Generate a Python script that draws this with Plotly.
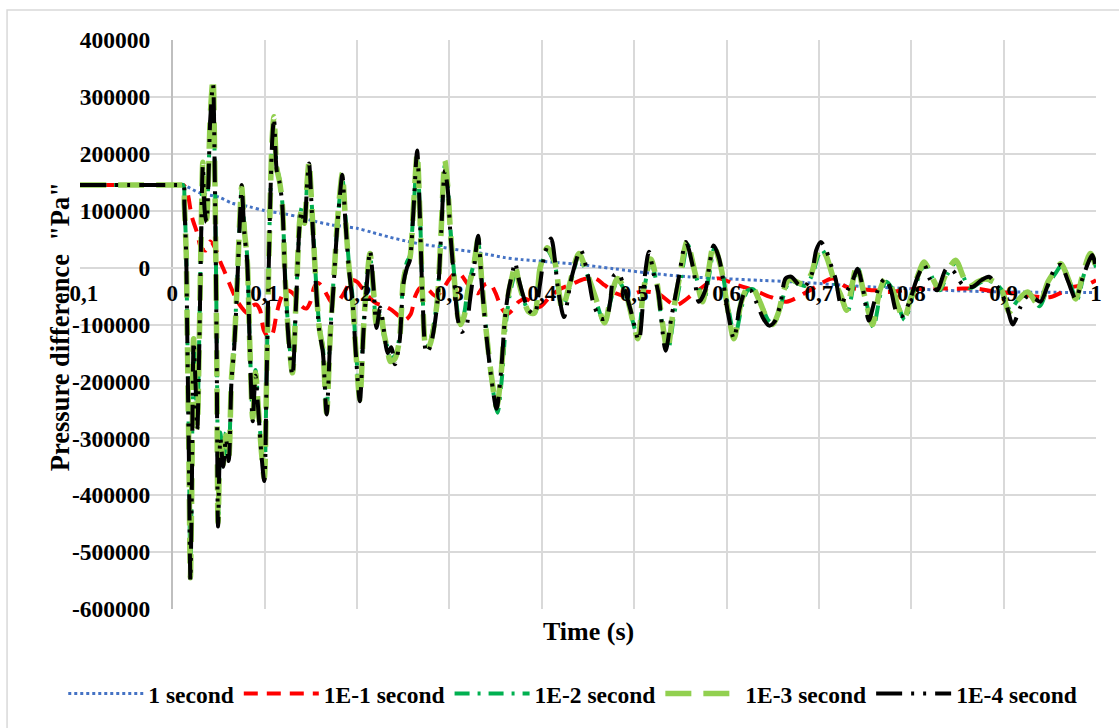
import plotly.graph_objects as go

# ---------------- data ----------------
x_tick_vals = [-0.1, 0, 0.1, 0.2, 0.3, 0.4, 0.5, 0.6, 0.7, 0.8, 0.9, 1.0]
x_tick_text = ["-0,1", "0", "0,1", "0,2", "0,3", "0,4", "0,5", "0,6", "0,7", "0,8", "0,9", "1"]
y_tick_vals = [-600000, -500000, -400000, -300000, -200000, -100000, 0, 100000, 200000, 300000, 400000]
y_tick_text = ["-600000", "-500000", "-400000", "-300000", "-200000", "-100000", "0",
               "100000", "200000", "300000", "400000"]

series_names = ["1 second", "1E-1 second", "1E-2 second", "1E-3 second", "1E-4 second"]

# 1 second
t_1s = [-0.1, 0.0, 0.008, 0.012, 0.03, 0.05, 0.065, 0.083, 0.1, 0.12, 0.137, 0.155, 0.173, 0.2, 0.216,
        0.234, 0.252, 0.27, 0.288, 0.306, 0.324, 0.342, 0.36, 0.378, 0.4, 0.438, 0.478, 0.518,
        0.558, 0.598, 0.638, 0.678, 0.718, 0.758, 0.798, 0.838, 0.878, 0.918, 0.958, 1.0]
p_1s = [145000, 145000, 145000, 145000, 131000, 124000, 113000, 107000, 100000, 95000, 89000, 81000, 75000,
        69000, 62000, 54000, 47000, 41000, 37000, 32000, 28000, 23000, 17500, 14000, 11000,
        6000, -2000, -10000, -16000, -19500, -22500, -25500, -30000, -34000, -37000, -40000,
        -42000, -43000, -43500, -44000]

# 1E-1 second
t_1e1 = [-0.1, 0.0, 0.008, 0.012, 0.016, 0.021, 0.027, 0.031, 0.036, 0.041, 0.047, 0.052, 0.057, 0.063,
         0.069, 0.075, 0.081, 0.086, 0.091, 0.095, 0.099, 0.104, 0.108, 0.113, 0.117, 0.122,
         0.128, 0.133, 0.140, 0.145, 0.149, 0.154, 0.158, 0.163, 0.168, 0.173, 0.178, 0.183,
         0.188, 0.194, 0.200, 0.205, 0.212, 0.220, 0.230, 0.238, 0.245, 0.252, 0.258, 0.263,
         0.268, 0.273, 0.278, 0.285, 0.292, 0.300, 0.306, 0.312, 0.318, 0.325, 0.331, 0.338,
         0.344, 0.350, 0.356, 0.362, 0.368, 0.375, 0.383, 0.390, 0.398, 0.410, 0.422, 0.434,
         0.446, 0.458, 0.468, 0.480, 0.492, 0.508, 0.526, 0.545, 0.565, 0.590, 0.610, 0.630,
         0.648, 0.665, 0.690, 0.715, 0.730, 0.760, 0.775, 0.800, 0.820, 0.850, 0.870, 0.890,
         0.915, 0.950, 0.975, 0.990, 1.0]
p_1e1 = [145000, 145000, 145000, 145000, 134000, 90000, 60000, 35000, 30000, 46000, 32000, 10000, -9000,
         -33000, -55000, -70000, -80000, -68000, -65000, -75000, -110000, -122000, -118000,
         -80000, -56000, -40000, -42000, -50000, -68000, -72000, -62000, -33000, -27000,
         -35000, -50000, -62000, -62000, -52000, -38000, -22000, -25000, -35000, -50000,
         -62000, -68000, -75000, -85000, -92000, -82000, -50000, -36000, -33000, -40000,
         -50000, -40000, -20000, -10000, -12000, -25000, -40000, -45000, -30000, -28000,
         -45000, -70000, -82000, -75000, -60000, -55000, -62000, -69000, -49000, -36000,
         -28000, -20000, -19000, -31000, -45000, -50000, -42000, -46000, -66000, -45000,
         -19000, -30000, -40000, -52000, -60000, -40000, -19000, -34000, -40000, -43000,
         -38000, -37000, -37000, -37000, -42000, -46000, -52000, -34000, -30000, -22000]

# 1E-4 second
t_1e4 = [-0.1, 0.0, 0.008, 0.012, 0.013, 0.015, 0.016, 0.018, 0.0195, 0.021, 0.023, 0.025, 0.027, 0.029,
         0.031, 0.033, 0.035, 0.037, 0.039, 0.041, 0.044, 0.046, 0.048, 0.0495, 0.052, 0.055,
         0.058, 0.061, 0.064, 0.067, 0.070, 0.073, 0.075, 0.078, 0.081, 0.084, 0.087, 0.090,
         0.093, 0.0965, 0.0995, 0.102, 0.105, 0.108, 0.110, 0.113, 0.116, 0.119, 0.122, 0.126,
         0.130, 0.134, 0.138, 0.140, 0.143, 0.146, 0.148, 0.151, 0.155, 0.159, 0.163, 0.167,
         0.171, 0.175, 0.178, 0.181, 0.184, 0.187, 0.191, 0.195, 0.199, 0.203, 0.207, 0.211,
         0.214, 0.218, 0.221, 0.225, 0.229, 0.233, 0.237, 0.241, 0.246, 0.250, 0.254, 0.257,
         0.261, 0.265, 0.268, 0.271, 0.275, 0.279, 0.283, 0.287, 0.291, 0.295, 0.298, 0.301,
         0.305, 0.309, 0.313, 0.318, 0.322, 0.326, 0.331, 0.335, 0.340, 0.345, 0.351, 0.356,
         0.360, 0.364, 0.368, 0.371, 0.375, 0.380, 0.386, 0.392, 0.398, 0.403, 0.410, 0.418,
         0.424, 0.432, 0.442, 0.450, 0.456, 0.464, 0.470, 0.474, 0.478, 0.483, 0.490, 0.497,
         0.505, 0.512, 0.516, 0.521, 0.526, 0.534, 0.540, 0.548, 0.556, 0.564, 0.570, 0.577,
         0.582, 0.586, 0.592, 0.602, 0.608, 0.614, 0.620, 0.626, 0.632, 0.640, 0.646, 0.652,
         0.658, 0.664, 0.670, 0.678, 0.684, 0.692, 0.697, 0.702, 0.708, 0.714, 0.718, 0.724,
         0.730, 0.736, 0.742, 0.748, 0.754, 0.760, 0.766, 0.772, 0.778, 0.784, 0.790, 0.798,
         0.806, 0.814, 0.820, 0.828, 0.838, 0.845, 0.856, 0.866, 0.876, 0.884, 0.894, 0.902,
         0.910, 0.918, 0.926, 0.934, 0.940, 0.948, 0.956, 0.962, 0.970, 0.978, 0.986, 0.996,
         1.0]
p_1e4 = [145000, 145000, 145000, 145000, 110000, 20000, -100000, -350000, -550000, -400000, -130000, -200000,
         -284000, -150000, 40000, 180000, 100000, 80000, 150000, 260000, 322000, 150000,
         -150000, -455000, -300000, -350000, -300000, -340000, -200000, -140000, -40000,
         80000, 145000, 60000, 10000, -150000, -270000, -190000, -250000, -330000, -375000,
         -200000, 50000, 220000, 262000, 170000, 150000, 110000, -20000, -130000, -190000,
         -60000, 80000, 100000, 75000, 150000, 183000, 100000, -20000, -110000, -150000,
         -258000, -120000, -20000, 60000, 120000, 163000, 90000, 0, -60000, -160000, -235000,
         -110000, -20000, 30000, -40000, -106000, -70000, -110000, -150000, -140000, -170000,
         -130000, -30000, 0, 12000, 100000, 206000, 90000, -60000, -150000, -140000, -110000,
         -60000, 60000, 170000, 140000, 60000, -20000, -90000, -113000, -105000, -60000,
         -10000, 56000, -30000, -120000, -190000, -248000, -180000, -90000, -40000, -10000,
         9000, -20000, -50000, -75000, -82000, -30000, 23000, 51000, -43000, -87000, -19000,
         31000, -14000, -64000, -90000, -88000, -60000, -14000, -10000, -40000, -80000,
         -128000, -8000, 28000, -10000, -43000, -146000, -90000, -20000, 45000, -2000, -60000,
         -40000, 10000, 39000, 16000, -84000, -125000, -72000, -43000, -40000, -60000, -90000,
         -102000, -95000, -66000, -19000, -16000, -30000, -34000, -13000, 30000, 45000, 30000,
         0, -19000, -66000, -43000, -25000, -2000, -40000, -93000, -60000, -30000, -19000,
         -40000, -78000, -85000, -60000, -20000, 5000, -20000, -40000, -2000, -5000, -31000,
         -34000, -22000, -16000, -35000, -60000, -100000, -70000, -50000, -55000, -60000,
         -30000, 0, 5000, -25000, -55000, -16000, 22000, -2000]

# 1E-3 second
t_1e3 = [-0.1, 0.0, 0.008, 0.012, 0.013, 0.015, 0.016, 0.018, 0.0195, 0.021, 0.023, 0.025, 0.027, 0.029,
         0.031, 0.033, 0.035, 0.037, 0.039, 0.041, 0.044, 0.046, 0.048, 0.0495, 0.052, 0.055,
         0.058, 0.061, 0.064, 0.067, 0.070, 0.073, 0.075, 0.078, 0.081, 0.084, 0.087, 0.090,
         0.093, 0.0965, 0.0995, 0.102, 0.105, 0.108, 0.110, 0.113, 0.116, 0.119, 0.122, 0.126,
         0.130, 0.134, 0.138, 0.140, 0.143, 0.146, 0.148, 0.151, 0.155, 0.159, 0.163, 0.167,
         0.171, 0.175, 0.178, 0.181, 0.184, 0.187, 0.191, 0.195, 0.199, 0.203, 0.207, 0.211,
         0.214, 0.218, 0.221, 0.225, 0.229, 0.233, 0.236, 0.241, 0.246, 0.250, 0.254, 0.257,
         0.261, 0.265, 0.268, 0.271, 0.275, 0.279, 0.283, 0.287, 0.291, 0.295, 0.298, 0.301,
         0.305, 0.309, 0.312, 0.316, 0.320, 0.326, 0.331, 0.335, 0.340, 0.345, 0.351, 0.356,
         0.360, 0.364, 0.368, 0.371, 0.375, 0.380, 0.386, 0.392, 0.398, 0.406, 0.414, 0.422,
         0.430, 0.440, 0.448, 0.458, 0.468, 0.475, 0.482, 0.490, 0.498, 0.504, 0.510, 0.518,
         0.524, 0.530, 0.536, 0.542, 0.550, 0.557, 0.566, 0.574, 0.580, 0.586, 0.594, 0.600,
         0.608, 0.616, 0.622, 0.628, 0.636, 0.644, 0.650, 0.656, 0.662, 0.668, 0.676, 0.684,
         0.692, 0.698, 0.702, 0.708, 0.716, 0.724, 0.730, 0.736, 0.741, 0.748, 0.754, 0.758,
         0.766, 0.772, 0.780, 0.786, 0.792, 0.800, 0.808, 0.814, 0.822, 0.830, 0.838, 0.848,
         0.856, 0.862, 0.872, 0.880, 0.890, 0.898, 0.906, 0.914, 0.926, 0.938, 0.948, 0.956,
         0.962, 0.970, 0.978, 0.986, 0.994, 1.0]
p_1e3 = [145000, 145000, 145000, 145000, 112000, 25000, -95000, -340000, -545000, -390000, -125000, -195000,
         -280000, -140000, 45000, 185000, 105000, 85000, 155000, 265000, 332000, 160000,
         -140000, -448000, -295000, -345000, -295000, -335000, -195000, -135000, -35000,
         85000, 142000, 65000, 15000, -145000, -265000, -185000, -245000, -325000, -370000,
         -195000, 55000, 225000, 265000, 175000, 152000, 112000, -15000, -125000, -185000,
         -55000, 85000, 102000, 78000, 152000, 186000, 105000, -15000, -105000, -145000,
         -255000, -115000, -15000, 65000, 125000, 166000, 95000, 5000, -55000, -155000,
         -232000, -105000, -15000, 25000, -45000, -100000, -75000, -115000, -145000, -165000,
         -160000, -125000, -25000, 5000, 15000, 105000, 200000, 95000, -55000, -145000,
         -135000, -105000, -55000, 65000, 188000, 145000, 65000, -15000, -85000, -100000,
         -85000, -40000, 0, 50000, -25000, -115000, -185000, -245000, -185000, -95000,
         -45000, -15000, 5000, -25000, -55000, -78000, -80000, -2000, 35000, 10000, -72000,
         -30000, 25000, -5000, -52000, -97000, -50000, -19000, -40000, -90000, -125000,
         -40000, 15000, -20000, -90000, -146000, -80000, -10000, 45000, -10000, -60000,
         -10000, 39000, 0, -60000, -125000, -60000, -37000, -35000, -60000, -90000, -100000,
         -80000, -40000, -20000, -25000, -30000, -10000, 25000, 35000, 20000, -20000, -50000,
         -75000, -30000, 4000, -40000, -80000, -100000, -40000, -20000, -40000, -70000,
         -90000, -50000, -10000, 10000, -15000, -37000, -10000, 13000, -15000, -34000, -25000,
         -20000, -25000, -40000, -78000, -60000, -43000, -66000, -25000, -5000, 7000, -20000,
         -55000, -10000, 25000, 0]

# 1E-2 second
t_1e2 = [-0.1, 0.0, 0.008, 0.012, 0.013, 0.015, 0.016, 0.018, 0.0195, 0.021, 0.023, 0.025, 0.027, 0.029,
         0.031, 0.033, 0.035, 0.037, 0.039, 0.041, 0.044, 0.046, 0.048, 0.050, 0.052, 0.055,
         0.058, 0.061, 0.064, 0.067, 0.070, 0.073, 0.075, 0.078, 0.081, 0.084, 0.087, 0.090,
         0.093, 0.0965, 0.0995, 0.102, 0.105, 0.108, 0.110, 0.113, 0.116, 0.119, 0.122, 0.126,
         0.130, 0.134, 0.138, 0.140, 0.143, 0.146, 0.148, 0.151, 0.155, 0.159, 0.163, 0.167,
         0.171, 0.175, 0.178, 0.181, 0.184, 0.187, 0.191, 0.195, 0.199, 0.203, 0.207, 0.211,
         0.214, 0.218, 0.221, 0.225, 0.229, 0.233, 0.236, 0.241, 0.246, 0.250, 0.254, 0.257,
         0.261, 0.265, 0.268, 0.271, 0.275, 0.279, 0.283, 0.287, 0.291, 0.295, 0.298, 0.301,
         0.305, 0.309, 0.312, 0.316, 0.320, 0.326, 0.331, 0.335, 0.340, 0.345, 0.352, 0.357,
         0.361, 0.365, 0.369, 0.372, 0.376, 0.381, 0.387, 0.393, 0.398, 0.406, 0.414, 0.422,
         0.430, 0.440, 0.448, 0.458, 0.468, 0.475, 0.482, 0.490, 0.498, 0.504, 0.510, 0.518,
         0.524, 0.530, 0.537, 0.543, 0.551, 0.558, 0.567, 0.575, 0.581, 0.587, 0.595, 0.601,
         0.609, 0.617, 0.623, 0.629, 0.637, 0.645, 0.651, 0.657, 0.663, 0.669, 0.677, 0.685,
         0.693, 0.699, 0.703, 0.709, 0.717, 0.725, 0.731, 0.737, 0.742, 0.749, 0.755, 0.759,
         0.767, 0.773, 0.781, 0.787, 0.793, 0.801, 0.809, 0.815, 0.823, 0.831, 0.839, 0.849,
         0.857, 0.863, 0.873, 0.881, 0.891, 0.899, 0.907, 0.915, 0.927, 0.939, 0.949, 0.957,
         0.963, 0.971, 0.979, 0.987, 0.995, 1.0]
p_1e2 = [145000, 145000, 145000, 145000, 115000, 30000, -90000, -330000, -540000, -380000, -120000, -190000,
         -270000, -130000, 50000, 175000, 110000, 90000, 160000, 255000, 322000, 170000,
         -120000, -440000, -290000, -340000, -290000, -330000, -190000, -130000, -30000,
         80000, 135000, 70000, 20000, -140000, -260000, -180000, -240000, -320000, -365000,
         -190000, 60000, 215000, 255000, 178000, 155000, 115000, -10000, -120000, -180000,
         -50000, 80000, 105000, 80000, 150000, 178000, 110000, -10000, -100000, -140000,
         -250000, -110000, -10000, 60000, 120000, 158000, 100000, 10000, -50000, -150000,
         -228000, -100000, -10000, 20000, -50000, -95000, -80000, -120000, -140000, -160000,
         -155000, -120000, -20000, 10000, 20000, 100000, 190000, 100000, -50000, -140000,
         -130000, -100000, -50000, 60000, 180000, 150000, 70000, -10000, -80000, -98000,
         -80000, -35000, 5000, 45000, -20000, -110000, -190000, -255000, -190000, -100000,
         -50000, -20000, 0, -30000, -60000, -80000, -78000, -5000, 30000, 5000, -70000,
         -35000, 20000, -8000, -55000, -99000, -55000, -22000, -42000, -92000, -122000,
         -45000, 10000, -25000, -95000, -142000, -85000, -15000, 40000, -15000, -62000,
         -15000, 35000, -5000, -62000, -120000, -65000, -40000, -38000, -62000, -92000,
         -98000, -78000, -42000, -22000, -28000, -32000, -12000, 20000, 32000, 15000,
         -25000, -55000, -78000, -35000, 0, -45000, -85000, -105000, -45000, -25000, -42000,
         -72000, -92000, -52000, -12000, 8000, -18000, -40000, -12000, 10000, -18000, -36000,
         -28000, -22000, -28000, -42000, -75000, -58000, -45000, -68000, -28000, -8000,
         5000, -22000, -58000, -12000, 22000, 0]

# ---------------- figure ----------------
FONT = "Liberation Serif, Times New Roman, serif"

fig = go.Figure()
fig.add_trace(go.Scatter(x=t_1s, y=p_1s, name=series_names[0], mode="lines",
                         line=dict(color="#4472C4", width=3, dash="dot", shape="spline", smoothing=0.8)))
fig.add_trace(go.Scatter(x=t_1e1, y=p_1e1, name=series_names[1], mode="lines",
                         line=dict(color="#FF0000", width=4, dash="14px,9px", shape="spline", smoothing=0.8)))
fig.add_trace(go.Scatter(x=t_1e2, y=p_1e2, name=series_names[2], mode="lines",
                         line=dict(color="#00B050", width=4, dash="15px,8px,3px,8px", shape="spline", smoothing=0.8)))
fig.add_trace(go.Scatter(x=t_1e3, y=p_1e3, name=series_names[3], mode="lines",
                         line=dict(color="#92D050", width=5.5, dash="26px,12px", shape="spline", smoothing=0.8)))
fig.add_trace(go.Scatter(x=t_1e4, y=p_1e4, name=series_names[4], mode="lines",
                         line=dict(color="#000000", width=4, dash="26px,9px,3px,9px,3px,9px", shape="spline", smoothing=0.8)))

fig.update_layout(
    width=1119, height=728,
    margin=dict(l=80, r=23, t=40, b=119),
    paper_bgcolor="white", plot_bgcolor="white",
    font=dict(family=FONT, size=23, color="black"),
    showlegend=True,
    legend=dict(orientation="h", x=0.485, xanchor="center", y=-0.149, yanchor="middle",
                font=dict(family=FONT, size=23.5, color="black", weight="bold"),
                itemwidth=75, tracegroupgap=0, bgcolor="rgba(0,0,0,0)"),
    xaxis=dict(range=[-0.1, 1.0], tickvals=x_tick_vals, ticktext=x_tick_text,
               anchor="free", position=0.6, showline=False, ticks="",
               ticklabelstandoff=9,
               tickfont=dict(family=FONT, size=23, color="black", weight="bold"),
               showgrid=True, gridcolor="#D9D9D9", gridwidth=1.8,
               zeroline=True, zerolinecolor="#BFBFBF", zerolinewidth=1.8),
    yaxis=dict(range=[-600000, 400000], tickvals=y_tick_vals, ticktext=y_tick_text,
               anchor="free", position=0.0909, showline=False, ticks="",
               ticklabelstandoff=22,
               tickfont=dict(family=FONT, size=23.5, color="black", weight="bold"),
               showgrid=True, gridcolor="#D9D9D9", gridwidth=1.8,
               zeroline=True, zerolinecolor="#D9D9D9", zerolinewidth=1.8),
    annotations=[
        dict(text="Pressure difference  \"Pa\"", xref="paper", yref="paper",
             x=-0.0197, y=0.497, xanchor="center", yanchor="middle", textangle=-90,
             showarrow=False, font=dict(family=FONT, size=26.5, color="black", weight="bold")),
        dict(text="Time (s)", xref="paper", yref="paper", x=0.5, y=-0.0387,
             xanchor="center", yanchor="middle", showarrow=False,
             font=dict(family=FONT, size=26, color="black", weight="bold")),
    ],
    shapes=[
        dict(type="rect", xref="paper", yref="paper", x0=-0.0718, x1=1.03, y0=-0.23, y1=1.0527,
             line=dict(color="#D9D9D9", width=1.5), fillcolor="rgba(0,0,0,0)", layer="below"),
    ],
)

fig.write_html("out.html")
